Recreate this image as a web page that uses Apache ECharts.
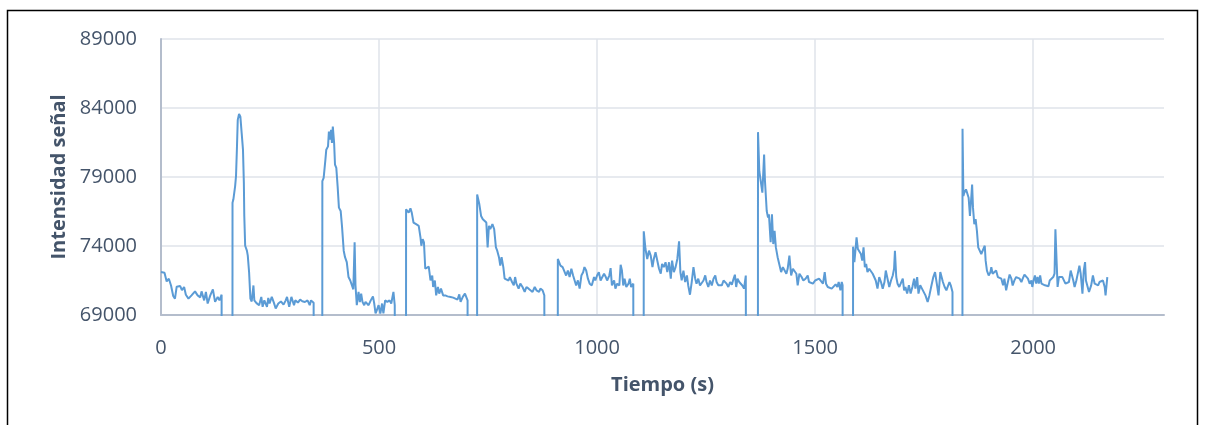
<!DOCTYPE html>
<html>
<head>
<meta charset="utf-8">
<script src="https://cdn.jsdelivr.net/npm/echarts@6/dist/echarts.min.js"></script>
<style>
  html, body { margin: 0; padding: 0; background: #ffffff; }
  #chart { width: 1206px; height: 425px; }
</style>
</head>
<body>
<div id="chart"></div>
<script>
// ---- Data (time in s, signal intensity) ----
const xTicks = [0, 500, 1000, 1500, 2000];
const yTicks = [69000, 74000, 79000, 84000, 89000];
const xTitle = 'Tiempo (s)';
const yTitle = 'Intensidad señal';

const run1 = [[0,72110],[8,72060],[13,71430],[18,71630],[23,71140],[28,70380],[32,70190],[36,71050],[44,71100],[48,70800],[53,71030],[57,70470],[63,70190],[70,70420],[78,70710],[84,70420],[90,70280],[93,70710],[99,70060],[103,70670],[107,69830],[113,70420],[119,70860],[124,69950],[130,70310],[134,70060],[139,70470]];
const run2 = [[164,77140],[166,77380],[170,78340],[172,79060],[174,80980],[176,83140],[179,83570],[182,83370],[185,82180],[188,80980],[190,78580],[191,76180],[193,74020],[197,73660],[199,73300],[202,72110],[205,70190],[208,69980],[212,71140],[214,70060],[219,69860],[225,69710],[230,70310],[233,69590],[237,70060],[243,69590],[246,70240],[249,69830],[254,70310],[259,69880],[263,69470],[269,69830],[275,69980],[281,69750],[286,70060],[289,70310],[294,69590],[299,70310],[305,69710],[308,70060],[314,69900],[319,70120],[324,69990],[330,69940],[336,70060],[341,69710],[344,70060],[350,69890],[353,69890]];
const run3 = [[370,78700],[373,78940],[377,80260],[379,80980],[383,81220],[385,82300],[387,81700],[390,82420],[392,81460],[394,82650],[397,81460],[399,79900],[402,79660],[405,78340],[408,76780],[412,76540],[415,75460],[419,73660],[422,73190],[426,72830],[430,71750],[434,71500],[436,71620],[441,70860],[444,74270],[446,71140],[449,69710],[453,70670],[456,69940],[459,70550],[462,69950],[466,69710],[469,69950],[476,69710],[481,70060],[486,70350],[489,69830],[492,69110],[495,69350],[499,69710],[503,69110],[507,69830],[510,69110],[514,70060],[519,69950],[524,70060],[528,69830],[533,70670],[536,69710],[540,69710]];
const run4 = [[562,76660],[564,76730],[568,76420],[572,76730],[575,76420],[579,75700],[585,75580],[591,75460],[595,74630],[597,74020],[600,74500],[603,74260],[606,72350],[610,72220],[614,72510],[618,71500],[622,71860],[624,71030],[628,71500],[631,70420],[635,71030],[638,70550],[642,70910],[647,70420],[652,70420],[657,70350],[664,70310],[670,70260],[675,70190],[680,70120],[684,70500],[687,69950],[692,70310],[697,70550],[700,70420],[703,70060]];
const run5 = [[725,77740],[726,77620],[730,77020],[734,76180],[738,75940],[742,76010],[746,75700],[749,73900],[752,75460],[755,75220],[760,75580],[764,75220],[768,73900],[771,73660],[775,73190],[778,72580],[781,73190],[785,72470],[788,71630],[792,71750],[797,71500],[800,71750],[805,71390],[809,71150],[812,71750],[815,71270],[820,70910],[824,71270],[829,71030],[834,70670],[838,71030],[843,70910],[847,71030],[852,70670],[857,71030],[861,70790],[867,70670],[870,70910],[875,70790],[879,70420],[882,70310]];
const run6 = [[910,73060],[912,72940],[916,72580],[921,72470],[925,72350],[929,71860],[933,72220],[937,71750],[941,72350],[945,71860],[948,71990],[952,71140],[956,71510],[960,70910],[964,71860],[968,72100],[971,72470],[975,72220],[979,71630],[983,71270],[988,71150],[993,71750],[996,71510],[1000,71860],[1004,72110],[1008,71500],[1012,71750],[1016,71990],[1020,71750],[1023,71500],[1028,71860],[1031,72400],[1034,71140],[1039,71510],[1042,70910],[1046,71270],[1051,71140],[1054,72640],[1057,72220],[1060,71140],[1063,71630],[1067,71030],[1072,71270],[1075,71630],[1078,71030],[1083,71270],[1085,71150]];
const run7 = [[1107,75060],[1109,74990],[1111,73780],[1115,73060],[1119,73660],[1123,73300],[1127,72470],[1130,73060],[1134,73550],[1138,73420],[1142,72350],[1146,71990],[1149,72700],[1153,72470],[1157,72820],[1161,72110],[1165,72820],[1169,71630],[1172,72940],[1176,72110],[1180,72470],[1184,73060],[1188,74340],[1191,72110],[1194,71510],[1198,72220],[1202,71390],[1206,71870],[1209,71140],[1213,70470],[1217,71390],[1221,72470],[1225,71630],[1228,71270],[1232,71630],[1236,71140],[1240,71030],[1244,71500],[1248,71870],[1251,71390],[1255,71030],[1259,71500],[1263,71140],[1267,71630],[1271,71870],[1274,71390],[1278,71150],[1282,71030],[1286,71150],[1290,71500],[1294,71630],[1297,71270],[1301,71030],[1305,71390],[1309,71200],[1313,71630],[1316,71920],[1319,71030],[1322,71630],[1326,71390],[1330,71270],[1333,71140],[1337,70910],[1341,71860],[1345,71750]];
const run8 = [[1369,82250],[1372,79420],[1375,79300],[1379,77860],[1383,80620],[1385,78700],[1389,76540],[1392,76060],[1394,76300],[1398,74270],[1401,76300],[1404,74140],[1407,75100],[1410,73900],[1414,73190],[1418,73060],[1422,72110],[1426,72470],[1430,72580],[1434,71990],[1437,72350],[1441,73300],[1445,71860],[1449,72350],[1453,72420],[1457,71990],[1460,71140],[1464,71990],[1469,71750],[1473,71500],[1478,71630],[1483,71860],[1486,71390],[1490,71500],[1495,71270],[1500,71500],[1504,71390],[1509,71630],[1513,71500],[1518,71270],[1522,72110],[1525,71270],[1529,71030],[1533,71030],[1538,70910],[1542,71030],[1547,71220],[1551,71030],[1554,71390],[1558,70790],[1561,71390],[1563,71150]];
const run9 = [[1587,73950],[1588,73900],[1590,72830],[1593,73900],[1595,74630],[1598,73780],[1601,73900],[1605,73420],[1608,72940],[1611,73900],[1614,72470],[1617,72700],[1620,72110],[1624,72350],[1628,72220],[1632,71990],[1636,72110],[1639,71500],[1643,70910],[1647,71750],[1651,71390],[1655,70910],[1659,71390],[1662,72220],[1666,71630],[1670,71030],[1674,71500],[1678,71860],[1681,72350],[1683,73660],[1686,71750],[1689,71270],[1693,71030],[1697,71150],[1701,71630],[1704,70790],[1707,71030],[1711,70550],[1715,71150],[1719,70550],[1723,71030],[1727,71630],[1730,70910],[1734,71750],[1737,70550],[1741,71150],[1745,70910],[1749,70790],[1753,70420],[1758,69950],[1762,70420],[1766,71030],[1771,71750],[1775,72110],[1779,71270],[1783,70420],[1787,72110],[1790,72110],[1793,71390],[1797,71030],[1801,70790],[1804,70910],[1808,71390],[1811,71150],[1815,70670]];
const run10 = [[1838,82490],[1840,77620],[1842,77860],[1846,78100],[1850,78220],[1852,77500],[1855,76180],[1858,77500],[1860,78460],[1862,76780],[1865,75580],[1868,75940],[1871,75100],[1874,73900],[1878,73780],[1881,73420],[1885,73540],[1889,74020],[1891,72940],[1894,72220],[1898,71860],[1902,72110],[1904,72470],[1907,71990],[1911,72110],[1915,72220],[1919,71750],[1923,71860],[1927,71630],[1931,71150],[1934,71630],[1938,70790],[1942,71390],[1946,71930],[1950,71630],[1953,71140],[1957,71510],[1961,71750],[1965,71860],[1969,71630],[1973,71390],[1976,71630],[1980,71930],[1984,71790],[1988,71630],[1992,71270],[1996,71510],[1998,71030],[2001,71510],[2004,71860],[2007,71270],[2010,71750],[2013,71270],[2016,71860],[2019,71270],[2023,71390],[2027,71150],[2031,71270],[2035,71080],[2038,71500],[2042,71390],[2046,71750],[2049,71990],[2051,75220],[2054,72700],[2056,71030],[2059,71750],[2063,71860],[2067,71750],[2070,71630],[2074,71270],[2078,71140],[2082,71390],[2086,72220],[2089,72350],[2092,71500],[2095,71030],[2099,71500],[2103,72110],[2106,72580],[2109,71990],[2113,70550],[2116,72220],[2119,72830],[2121,71500],[2124,71390],[2128,70670],[2130,70670],[2133,71150],[2137,71860],[2141,71270],[2145,71390],[2149,71150],[2152,71390],[2156,71270],[2160,71500],[2164,71030],[2166,70420],[2170,71750]];

// Intervals where the signal falls off the bottom of the scale
const dropouts = [[140,163],[354,369],[541,561],[704,724],[883,909],[1086,1106],[1346,1368],[1564,1586],[1816,1837]];
const offScaleValue = 0;

const runs = [run1, run2, run3, run4, run5, run6, run7, run8, run9, run10];

// ---- Build series data ----
const seriesData = [];
runs.forEach((run, i) => {
  run.forEach(p => seriesData.push(p));
  if (i < dropouts.length) {
    seriesData.push([dropouts[i][0], offScaleValue]);
    seriesData.push([dropouts[i][1], offScaleValue]);
  }
});

const textColor = '#44546a';
const fontFam = '"Open Sans", "Liberation Sans", sans-serif';

const chart = echarts.init(document.getElementById('chart'), null, { renderer: 'canvas' });
chart.setOption({
  animation: false,
  backgroundColor: '#ffffff',
  grid: { left: 161, right: 42, top: 39, bottom: 110, containLabel: false },
  graphic: [{
    type: 'rect',
    shape: { x: 7.5, y: 10.5, width: 1190, height: 440 },
    style: { fill: 'none', stroke: '#000000', lineWidth: 1.5 },
    silent: true, z: 100
  }],
  xAxis: {
    type: 'value',
    min: xTicks[0],
    max: 2300,
    interval: 500,
    name: xTitle,
    nameLocation: 'middle',
    nameGap: 60,
    nameTextStyle: { color: textColor, fontSize: 20, fontWeight: 'bold', fontFamily: fontFam },
    axisLine: { show: true, onZero: false, lineStyle: { color: '#b4bdcc', width: 2 } },
    axisTick: { show: false },
    axisLabel: {
      color: textColor, fontSize: 20, fontFamily: fontFam, margin: 23,
      showMaxLabel: false,
      formatter: v => (xTicks.indexOf(v) >= 0 ? String(v) : '')
    },
    splitLine: { show: true, showMaxLine: false, lineStyle: { color: '#dfe3ea', width: 1.5 } }
  },
  yAxis: {
    type: 'value',
    min: yTicks[0],
    max: yTicks[yTicks.length - 1],
    interval: 5000,
    name: yTitle,
    nameLocation: 'middle',
    nameGap: 92,
    nameRotate: 90,
    nameTextStyle: { color: textColor, fontSize: 20, fontWeight: 'bold', fontFamily: fontFam },
    axisLine: { show: true, lineStyle: { color: '#b4bdcc', width: 2 } },
    axisTick: { show: false },
    axisLabel: {
      color: textColor, fontSize: 20, fontFamily: fontFam, margin: 24,
      formatter: v => String(v)
    },
    splitLine: { show: true, lineStyle: { color: '#dfe3ea', width: 1.5 } }
  },
  series: [{
    type: 'line',
    data: seriesData,
    showSymbol: false,
    symbol: 'none',
    clip: true,
    lineStyle: { color: '#5b9bd5', width: 2 },
    z: 3
  }]
});
</script>
</body>
</html>
